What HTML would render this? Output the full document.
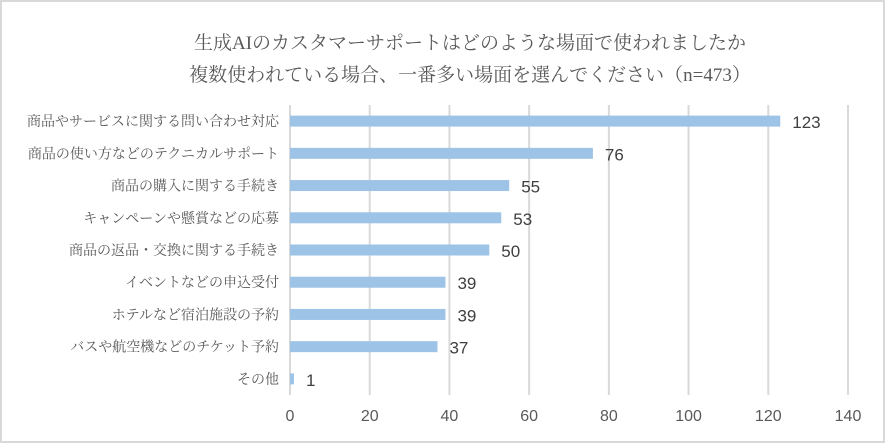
<!DOCTYPE html>
<html><head><meta charset="utf-8"><style>
body{margin:0;background:#fff}
svg text{font-family:"Liberation Serif","Noto Serif CJK JP",serif}
.num{font-family:"Liberation Sans","Noto Sans CJK JP",sans-serif}
</style></head><body>
<svg id="c" width="885" height="443" xmlns="http://www.w3.org/2000/svg">
<rect x="1" y="1" width="883" height="441" fill="#fff" stroke="#d9d9d9" stroke-width="2"/>
<text x="470" y="49" text-anchor="middle" font-size="19" fill="#595959">生成AIのカスタマーサポートはどのような場面で使われましたか</text>
<text x="470" y="81" text-anchor="middle" font-size="19" fill="#595959">複数使われている場合、一番多い場面を選んでください（n=473）</text>
<g id="grid"></g><g id="bars"></g><g id="labels"></g>
</svg>
<script>
const categories=["商品やサービスに関する問い合わせ対応","商品の使い方などのテクニカルサポート","商品の購入に関する手続き","キャンペーンや懸賞などの応募","商品の返品・交換に関する手続き","イベントなどの申込受付","ホテルなど宿泊施設の予約","バスや航空機などのチケット予約","その他"];
const values=[123,76,55,53,50,39,39,37,1];
const ticks=[0,20,40,60,80,100,120,140];
const NS="http://www.w3.org/2000/svg";
const x0=290,x1=848,yTop=105,yBottom=395,maxV=140;
const xs=v=>x0+(v/maxV)*(x1-x0);
const band=(yBottom-yTop)/categories.length;
const yc=i=>yTop+band*(i+0.5);
function mk(t,a,p){const e=document.createElementNS(NS,t);for(const k in a)e.setAttribute(k,a[k]);p.appendChild(e);return e;}
const g=document.getElementById('grid'),b=document.getElementById('bars'),l=document.getElementById('labels');
ticks.forEach(t=>{
 const ln=mk('line',{x1:xs(t),x2:xs(t),y1:yTop,y2:yBottom,stroke:'#d9d9d9','stroke-width':2},g);
 
 
 const tx=mk('text',{x:xs(t),y:421,'text-anchor':'middle','font-size':16,fill:'#595959',class:'num'},g);
 tx.textContent=t;
 
 
});
categories.forEach((c,i)=>{
 const y=yc(i);
 const r=mk('rect',{x:x0,y:y-5.5,width:xs(values[i])-x0,height:11,fill:'#9dc3e6'},b);
 
 
 const v=mk('text',{x:xs(values[i])+12,y:y+7,'font-size':17,fill:'#404040',class:'num'},l);
 v.textContent=values[i];
 
 
 const cl=mk('text',{x:279,y:y+5,'text-anchor':'end','font-size':14,fill:'#595959'},l);
 cl.textContent=c;
 
 
});
</script>
</body></html>
